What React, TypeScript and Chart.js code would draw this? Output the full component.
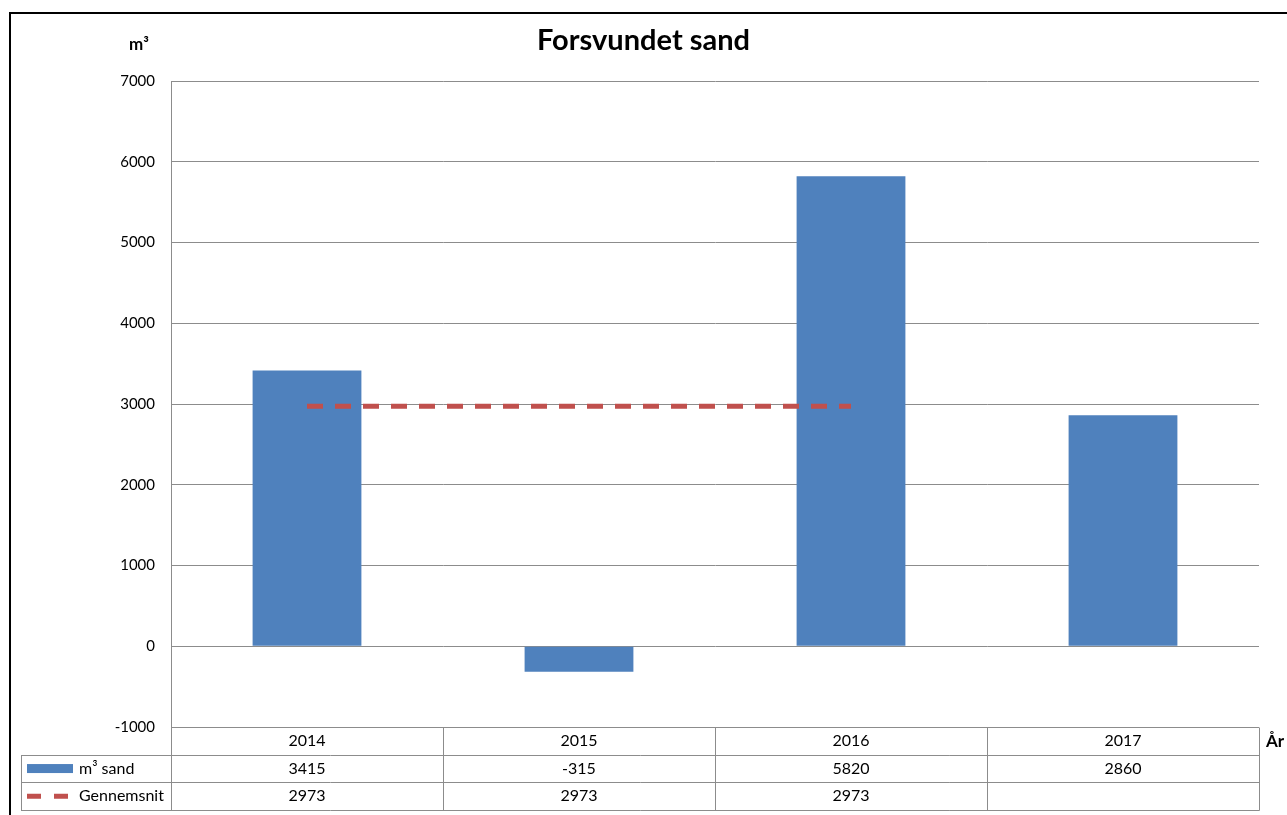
import React, { useEffect, useRef } from 'react';
import { Chart, registerables } from 'chart.js';

Chart.register(...registerables);

// ---- data ----
const years = ['2014', '2015', '2016', '2017'];
const sandValues = [3415, -315, 5820, 2860];
const averageValues: (number | null)[] = [2973, 2973, 2973, null];
const yMin = -1000;
const yMax = 7000;
const yStep = 1000;
const seriesNames = ['m³ sand', 'Gennemsnit'];
const titleText = 'Forsvundet sand';
const yUnit = 'm³';
const xUnit = 'År';

// ---- style ----
const FONT = 'Lato, "Open Sans", "DejaVu Sans", sans-serif';
const BAR = '#4F81BD';
const LINE = '#C0504D';
const GRID = '#8C8C8C';
const TEXT = '#000000';

const decorPlugin = {
  id: 'decor',
  afterDraw(chart: any) {
    const { ctx, chartArea: a, scales } = chart;
    const xs = scales.x;
    const n = years.length;
    const cw = (a.right - a.left) / n;
    const rowH = 27.7;
    const r0 = a.bottom;
    const r1 = r0 + rowH;
    const r2 = r1 + rowH;
    const r3 = r2 + rowH;
    const legendLeft = 21;
    const px = (v: number) => Math.round(v) + 0.5;

    ctx.save();

    // outer frame (top + left)
    ctx.strokeStyle = '#000';
    ctx.lineWidth = 2;
    ctx.beginPath();
    ctx.moveTo(10, chart.height);
    ctx.lineTo(10, 13);
    ctx.lineTo(chart.width, 13);
    ctx.stroke();

    // title
    ctx.fillStyle = TEXT;
    ctx.font = `bold 29px ${FONT}`;
    ctx.textAlign = 'center';
    ctx.textBaseline = 'middle';
    ctx.fillText(titleText, chart.width / 2, 41);

    // unit labels
    ctx.font = `bold 17px ${FONT}`;
    ctx.textAlign = 'center';
    ctx.fillText(yUnit, 139, 45);
    ctx.textAlign = 'left';
    ctx.fillText(xUnit, 1266, 742);

    // table lines
    ctx.strokeStyle = GRID;
    ctx.lineWidth = 1;
    ctx.beginPath();
    // y axis line extended through the table
    ctx.moveTo(px(a.left), a.top);
    ctx.lineTo(px(a.left), px(r3));
    // horizontal rows
    ctx.moveTo(a.left, px(r0));
    ctx.lineTo(a.right, px(r0));
    [r1, r2, r3].forEach((r) => {
      ctx.moveTo(legendLeft, px(r));
      ctx.lineTo(a.right + 0.5, px(r));
    });
    // legend column left edge
    ctx.moveTo(px(legendLeft), px(r1));
    ctx.lineTo(px(legendLeft), px(r3));
    // column separators
    for (let i = 0; i < n; i++) {
      const right = xs.getPixelForValue(i) + cw / 2;
      ctx.moveTo(px(right), px(r0));
      ctx.lineTo(px(right), px(r3));
    }
    ctx.stroke();

    // table text
    ctx.fillStyle = TEXT;
    ctx.font = `16px ${FONT}`;
    ctx.textAlign = 'center';
    ctx.textBaseline = 'middle';
    years.forEach((y, i) => {
      const cx = xs.getPixelForValue(i);
      ctx.fillText(y, cx, (r0 + r1) / 2);
      const s = sandValues[i];
      if (s !== null && s !== undefined) ctx.fillText(String(s), cx, (r1 + r2) / 2);
      const av = averageValues[i];
      if (av !== null && av !== undefined) ctx.fillText(String(av), cx, (r2 + r3) / 2);
    });

    // legend keys
    ctx.fillStyle = BAR;
    ctx.fillRect(27, (r1 + r2) / 2 - 4.5, 46, 9);
    ctx.strokeStyle = LINE;
    ctx.lineWidth = 5;
    ctx.lineCap = 'butt';
    ctx.beginPath();
    ctx.moveTo(27, (r2 + r3) / 2);
    ctx.lineTo(41, (r2 + r3) / 2);
    ctx.moveTo(54, (r2 + r3) / 2);
    ctx.lineTo(68, (r2 + r3) / 2);
    ctx.stroke();

    ctx.fillStyle = TEXT;
    ctx.textAlign = 'left';
    ctx.font = `16px ${FONT}`;
    ctx.fillText(seriesNames[0], 79, (r1 + r2) / 2);
    ctx.fillText(seriesNames[1], 79, (r2 + r3) / 2);

    ctx.restore();
  },
};

export default function App() {
  const canvasRef = useRef<HTMLCanvasElement | null>(null);

  useEffect(() => {
    const canvas = canvasRef.current;
    if (!canvas) return;
    const chart = new Chart(canvas, {
      type: 'bar',
      data: {
        labels: years,
        datasets: [
          {
            type: 'line',
            label: seriesNames[1],
            data: averageValues,
            borderColor: LINE,
            backgroundColor: LINE,
            borderWidth: 5,
            borderDash: [16, 12],
            borderCapStyle: 'butt',
            pointRadius: 0,
            pointHoverRadius: 0,
            fill: false,
            spanGaps: false,
            order: 0,
          } as any,
          {
            type: 'bar',
            label: seriesNames[0],
            data: sandValues,
            backgroundColor: BAR,
            borderWidth: 0,
            barPercentage: 0.8,
            categoryPercentage: 0.5,
            order: 1,
          } as any,
        ],
      },
      options: {
        responsive: false,
        animation: false,
        devicePixelRatio: 1,
        layout: { padding: { left: 0, top: 81, right: 28, bottom: 88 } },
        plugins: {
          legend: { display: false },
          title: { display: false },
          tooltip: { enabled: false },
        },
        scales: {
          x: {
            display: false,
          },
          y: {
            min: yMin,
            max: yMax,
            afterFit: (scale: any) => {
              scale.width = 171;
            },
            ticks: {
              stepSize: yStep,
              padding: 16,
              color: TEXT,
              font: { family: FONT, size: 15 },
              callback: (v: any) => String(v),
            },
            grid: {
              color: GRID,
              lineWidth: 1,
              drawTicks: false,
            },
            border: { display: true, color: GRID },
          },
        },
      },
      plugins: [decorPlugin],
    });
    return () => chart.destroy();
  }, []);

  return (
    <canvas
      ref={canvasRef}
      width={1287}
      height={815}
      style={{ position: 'absolute', left: 0, top: 0, width: '1287px', height: '815px', background: '#fff' }}
    />
  );
}
